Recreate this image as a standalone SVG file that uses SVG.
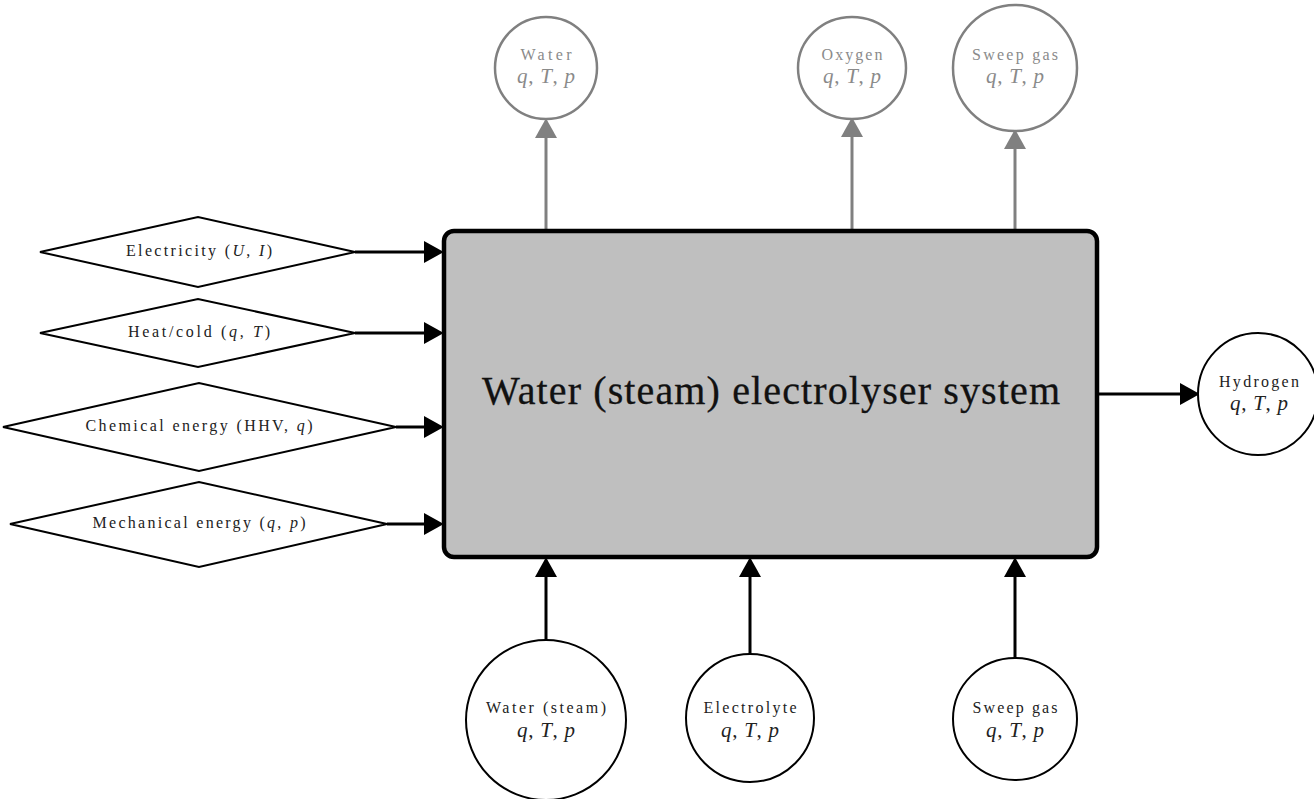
<svg xmlns="http://www.w3.org/2000/svg" width="1314" height="799" viewBox="0 0 1314 799">
<style>
  .lbl { font-family: "Liberation Serif", "DejaVu Serif", serif; font-size: 16px; fill: #222; text-anchor: middle; }
  .glbl { font-family: "Liberation Serif", "DejaVu Serif", serif; font-size: 16px; fill: #8a8a8a; text-anchor: middle; }
  .math { font-family: "Liberation Serif", "DejaVu Serif", serif; font-size: 21px; fill: #222; text-anchor: middle; }
  .gmath { font-family: "Liberation Serif", "DejaVu Serif", serif; font-size: 21px; fill: #8a8a8a; text-anchor: middle; }
  .it { font-style: italic; }
  .title { font-family: "Liberation Serif", "DejaVu Serif", serif; font-size: 40px; fill: #111; stroke: #111; stroke-width: 0.3; text-anchor: middle; }
  .diamond { fill: #fff; stroke: #000; stroke-width: 2; }
  .node { fill: #fff; stroke: #000; stroke-width: 2; }
  .gnode { fill: #fff; stroke: #808080; stroke-width: 2.5; }
  .conn { stroke: #000; stroke-width: 3; fill: none; }
  .gconn { stroke: #808080; stroke-width: 3; fill: none; }
</style>
<defs>
  <marker id="ah" markerUnits="userSpaceOnUse" markerWidth="20" markerHeight="22" viewBox="0 0 18 20" refX="0" refY="10" orient="auto">
    <path d="M0,0 L18,10 L0,20 z" fill="#000"/>
  </marker>
  <marker id="gah" markerUnits="userSpaceOnUse" markerWidth="20" markerHeight="22" viewBox="0 0 18 20" refX="0" refY="10" orient="auto">
    <path d="M0,0 L18,10 L0,20 z" fill="#808080"/>
  </marker>
</defs>
<rect width="1314" height="799" fill="#fff"/>

<g id="connectors">
  <line class="conn" x1="355" y1="252" x2="424" y2="252" marker-end="url(#ah)"/>
  <line class="conn" x1="355" y1="333" x2="424" y2="333" marker-end="url(#ah)"/>
  <line class="conn" x1="396" y1="427" x2="424" y2="427" marker-end="url(#ah)"/>
  <line class="conn" x1="387" y1="524" x2="424" y2="524" marker-end="url(#ah)"/>
  <line class="gconn" x1="546" y1="229" x2="546" y2="138" marker-end="url(#gah)"/>
  <line class="gconn" x1="852" y1="229" x2="852" y2="137" marker-end="url(#gah)"/>
  <line class="gconn" x1="1015" y1="229" x2="1015" y2="149" marker-end="url(#gah)"/>
  <line class="conn" x1="546" y1="640" x2="546" y2="577" marker-end="url(#ah)"/>
  <line class="conn" x1="750" y1="654" x2="750" y2="577" marker-end="url(#ah)"/>
  <line class="conn" x1="1015" y1="658" x2="1015" y2="577" marker-end="url(#ah)"/>
  <line class="conn" x1="1099" y1="394" x2="1180" y2="394" marker-end="url(#ah)"/>
</g>

<g id="system">
  <rect x="444" y="231" width="653" height="326" rx="10" ry="10" fill="#bfbfbf" stroke="#000" stroke-width="4.5"/>
  <text class="title" x="771" y="404" textLength="578" lengthAdjust="spacing">Water (steam) electrolyser system</text>
</g>

<g id="electricity">
  <polygon class="diamond" points="40,252 198,217 355,252 198,287"/>
  <text class="lbl" x="199" y="256" textLength="146" lengthAdjust="spacing">Electricity (<tspan class="it">U</tspan>, <tspan class="it">I</tspan>)</text>
</g>
<g id="heat">
  <polygon class="diamond" points="40,333 198,299 355,333 198,367"/>
  <text class="lbl" x="199" y="337" textLength="142" lengthAdjust="spacing">Heat/cold (<tspan class="it">q</tspan>, <tspan class="it">T</tspan>)</text>
</g>
<g id="chemical">
  <polygon class="diamond" points="3,427 199,383 396,427 199,471"/>
  <text class="lbl" x="199" y="431" textLength="227" lengthAdjust="spacing">Chemical energy (HHV, <tspan class="it">q</tspan>)</text>
</g>
<g id="mechanical">
  <polygon class="diamond" points="10,524 199,482 387,524 199,567"/>
  <text class="lbl" x="199" y="528" textLength="213" lengthAdjust="spacing">Mechanical energy (<tspan class="it">q</tspan>, <tspan class="it">p</tspan>)</text>
</g>

<g id="water-out">
  <ellipse class="gnode" cx="546" cy="68" rx="51" ry="51"/>
  <text class="glbl" x="546" y="60" textLength="51" lengthAdjust="spacing">Water</text>
  <text class="gmath" x="546" y="83" textLength="58" lengthAdjust="spacing"><tspan class="it">q</tspan>, <tspan class="it">T</tspan>, <tspan class="it">p</tspan></text>
</g>
<g id="oxygen-out">
  <ellipse class="gnode" cx="852" cy="68" rx="54" ry="51"/>
  <text class="glbl" x="852" y="60" textLength="61" lengthAdjust="spacing">Oxygen</text>
  <text class="gmath" x="852" y="83" textLength="58" lengthAdjust="spacing"><tspan class="it">q</tspan>, <tspan class="it">T</tspan>, <tspan class="it">p</tspan></text>
</g>
<g id="sweep-out">
  <ellipse class="gnode" cx="1015" cy="68" rx="62" ry="63"/>
  <text class="glbl" x="1015" y="60" textLength="86" lengthAdjust="spacing">Sweep gas</text>
  <text class="gmath" x="1015" y="83" textLength="58" lengthAdjust="spacing"><tspan class="it">q</tspan>, <tspan class="it">T</tspan>, <tspan class="it">p</tspan></text>
</g>

<g id="hydrogen-out">
  <ellipse class="node" cx="1258" cy="394" rx="60" ry="61"/>
  <text class="lbl" x="1259" y="387" textLength="80" lengthAdjust="spacing">Hydrogen</text>
  <text class="math" x="1259" y="410" textLength="58" lengthAdjust="spacing"><tspan class="it">q</tspan>, <tspan class="it">T</tspan>, <tspan class="it">p</tspan></text>
</g>

<g id="water-in">
  <ellipse class="node" cx="546" cy="720" rx="80" ry="80"/>
  <text class="lbl" x="546" y="713" textLength="120" lengthAdjust="spacing">Water (steam)</text>
  <text class="math" x="546" y="737" textLength="58" lengthAdjust="spacing"><tspan class="it">q</tspan>, <tspan class="it">T</tspan>, <tspan class="it">p</tspan></text>
</g>
<g id="electrolyte-in">
  <ellipse class="node" cx="750" cy="718" rx="64" ry="64"/>
  <text class="lbl" x="750" y="713" textLength="93" lengthAdjust="spacing">Electrolyte</text>
  <text class="math" x="750" y="737" textLength="58" lengthAdjust="spacing"><tspan class="it">q</tspan>, <tspan class="it">T</tspan>, <tspan class="it">p</tspan></text>
</g>
<g id="sweep-in">
  <ellipse class="node" cx="1015" cy="719" rx="62" ry="61"/>
  <text class="lbl" x="1015" y="713" textLength="85" lengthAdjust="spacing">Sweep gas</text>
  <text class="math" x="1015" y="737" textLength="58" lengthAdjust="spacing"><tspan class="it">q</tspan>, <tspan class="it">T</tspan>, <tspan class="it">p</tspan></text>
</g>
</svg>
